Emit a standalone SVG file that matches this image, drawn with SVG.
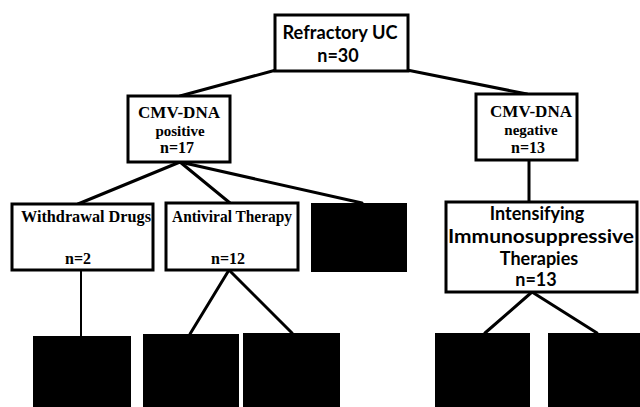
<svg xmlns="http://www.w3.org/2000/svg" width="640" height="407" viewBox="0 0 640 407">
<style>
.box{fill:#fff;stroke:#000;stroke-width:3}
.blk{fill:#000;stroke:none}
.ln{stroke:#000;stroke-width:3;fill:none;stroke-linecap:round}
.sans{font-family:Lato,"Open Sans","DejaVu Sans",sans-serif;font-weight:bold;fill:#000;text-anchor:middle}
.serif{font-family:"Liberation Serif","Times New Roman",serif;font-weight:bold;fill:#000;text-anchor:middle}
</style>
<rect width="640" height="407" fill="#fff"/>
<g id="connectors">
<line class="ln" x1="276" y1="70" x2="180" y2="96"/>
<line class="ln" x1="407" y1="70" x2="527" y2="94"/>
<line class="ln" x1="180" y1="162" x2="78" y2="204"/>
<line class="ln" x1="180" y1="162" x2="230" y2="203"/>
<line class="ln" x1="180" y1="162" x2="362" y2="203"/>
<line class="ln" x1="529" y1="160" x2="529" y2="202"/>
<line class="ln" x1="81" y1="270" x2="81" y2="336" style="stroke-width:2"/>
<line class="ln" x1="229" y1="270" x2="190" y2="334"/>
<line class="ln" x1="229" y1="270" x2="292" y2="333"/>
<line class="ln" x1="532" y1="292" x2="485" y2="333"/>
<line class="ln" x1="532" y1="292" x2="597" y2="333"/>
</g>
<g id="refractory">
<rect class="box" x="275" y="15" width="133" height="56"/>
<text class="sans" x="340" y="39" font-size="18" textLength="115" lengthAdjust="spacingAndGlyphs">Refractory UC</text>
<text class="sans" x="338" y="62" font-size="18">n=30</text>
</g>
<g id="cmv-positive">
<rect class="box" x="128" y="96" width="102" height="66"/>
<text class="serif" x="179" y="118" font-size="16" textLength="82" lengthAdjust="spacingAndGlyphs">CMV-DNA</text>
<text class="serif" x="180" y="136" font-size="15">positive</text>
<text class="serif" x="177" y="153" font-size="16">n=17</text>
</g>
<g id="cmv-negative">
<rect class="box" x="476" y="94" width="101" height="66"/>
<text class="serif" x="531" y="117" font-size="16" textLength="82" lengthAdjust="spacingAndGlyphs">CMV-DNA</text>
<text class="serif" x="531" y="135" font-size="15">negative</text>
<text class="serif" x="528" y="153" font-size="16">n=13</text>
</g>
<g id="withdrawal">
<rect class="box" x="12" y="204" width="141" height="66"/>
<text class="serif" x="86" y="222" font-size="16" textLength="130" lengthAdjust="spacingAndGlyphs">Withdrawal Drugs</text>
<text class="serif" x="78" y="264" font-size="16">n=2</text>
</g>
<g id="antiviral">
<rect class="box" x="166" y="203" width="132" height="67"/>
<text class="serif" x="232" y="222" font-size="16" textLength="120" lengthAdjust="spacingAndGlyphs">Antiviral Therapy</text>
<text class="serif" x="228" y="264" font-size="16">n=12</text>
</g>
<g id="hidden-3">
<rect class="blk" x="311" y="203" width="96" height="69"/>
</g>
<g id="intensifying">
<rect class="box" x="446" y="202" width="191" height="90"/>
<text class="sans" x="537" y="220" font-size="18">Intensifying</text>
<text class="sans" x="541" y="243" font-size="18" textLength="186" lengthAdjust="spacingAndGlyphs">Immunosuppressive</text>
<text class="sans" x="539" y="265" font-size="18">Therapies</text>
<text class="sans" x="536" y="286" font-size="18">n=13</text>
</g>
<g id="hidden-a"><rect class="blk" x="33" y="336" width="98" height="71"/></g>
<g id="hidden-b"><rect class="blk" x="143" y="334" width="96" height="73"/></g>
<g id="hidden-c"><rect class="blk" x="243" y="333" width="97" height="74"/></g>
<g id="hidden-d"><rect class="blk" x="435" y="333" width="95" height="74"/></g>
<g id="hidden-e"><rect class="blk" x="548" y="333" width="92" height="74"/></g>
</svg>
